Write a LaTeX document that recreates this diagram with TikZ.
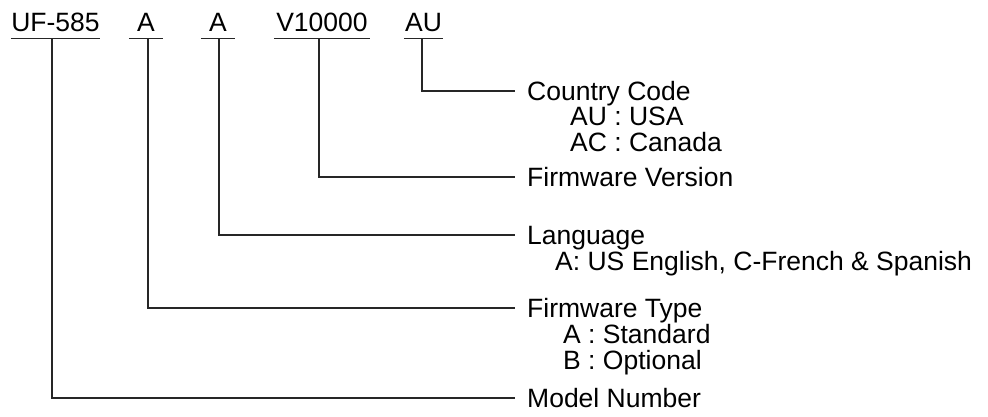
\documentclass[tikz,border=0pt]{standalone}
\usepackage{fontspec}
\setmainfont{Liberation Sans}
\usetikzlibrary{positioning,calc}

\begin{document}
\begin{tikzpicture}[x=1pt, y=-1pt, font=\fontsize{26.5}{27}\selectfont,
    field/.style={anchor=base, inner sep=0pt, text depth=7pt},
    title/.style={anchor=west, inner xsep=12pt, inner ysep=0pt, text height=19pt, text depth=0pt},
    sub/.style={anchor=base west, inner sep=0pt},
    lead/.style={draw=black!85, line width=1.2pt}]
    \useasboundingbox (0,0) rectangle (988,416);

    % part number fields
    \node [field, minimum width=89pt] (model) at (55.5,31.5) {UF-585};
    \node [field, minimum width=34pt] (ftype) at (146,31.5) {A};
    \node [field, minimum width=34pt] (lang) at (218,31.5) {A};
    \node [field, minimum width=96pt] (fver) at (322,31.5) {V10000};
    \node [field, minimum width=39pt] (ctry) at (423.5,31.5) {AU};
    \foreach \n in {model,ftype,lang,fver,ctry}
        \draw [lead] (\n.south west) -- (\n.south east);

    % descriptions
    \node [title] (ctryT) at (515,91) {Country Code};
    \node [sub] (au) at (570,125) {AU : USA};
    \node [sub] (ac) at (570,151) {AC : Canada};
    \node [title] (fverT) at (515,177) {Firmware Version};
    \node [title] (langT) at (515,235) {Language};
    \node [sub] (langA) at (555,270) {A: US English, C-French \& Spanish};
    \node [title] (ftypeT) at (515,308) {Firmware Type};
    \node [sub] (typA) at (563,343) {A : Standard};
    \node [sub] (typB) at (563,369) {B : Optional};
    \node [title] (modelT) at (515,398) {Model Number};

    \draw [lead] ([xshift=-1.5pt]ctry.south) |- (ctryT.west);
    \draw [lead] ([xshift=-3pt]fver.south) |- (fverT.west);
    \draw [lead] ([xshift=1pt]lang.south) |- (langT.west);
    \draw [lead] ([xshift=2pt]ftype.south) |- (ftypeT.west);
    \draw [lead] ([xshift=-3.5pt]model.south) |- (modelT.west);
\end{tikzpicture}
\end{document}
